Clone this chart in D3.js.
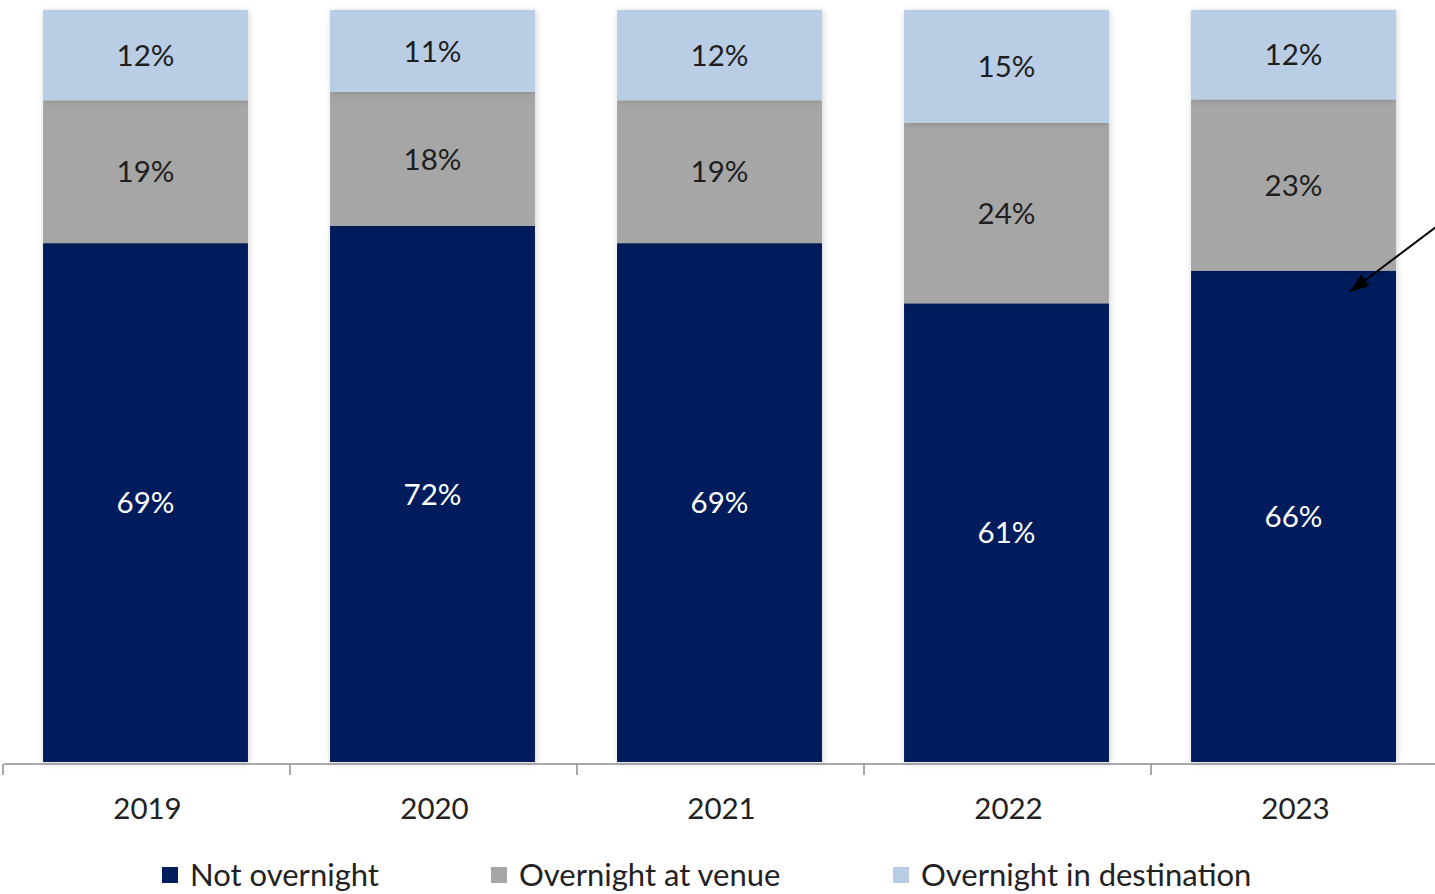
<!DOCTYPE html>
<html>
<head>
<meta charset="utf-8">
<script src="https://cdn.jsdelivr.net/npm/d3@7"></script>
<style>
  html, body { margin: 0; padding: 0; background: #ffffff; }
  svg { display: block; font-family: Lato, "Open Sans", sans-serif; }
</style>
</head>
<body>
<svg id="chart" width="1435" height="894"></svg>
<script>
// Share of event attendees by overnight stay, per year
const years = ["2019", "2020", "2021", "2022", "2023"];
const seriesNames = ["Not overnight", "Overnight at venue", "Overnight in destination"];
const notOvernight = [69, 72, 69, 61, 66];
const overnightVenue = [19, 18, 19, 24, 23];
const overnightDestination = [12, 11, 12, 15, 12];
const seriesColors = ["#001f5c", "#a6a6a6", "#b9cde5"];
const labelColors = ["#ffffff", "#1e1e1e", "#1e1e1e"];

const svg = d3.select("#chart");
const W = 1435, H = 894;

const rows = years.map((y, i) => ({
  year: y,
  "Not overnight": notOvernight[i],
  "Overnight at venue": overnightVenue[i],
  "Overnight in destination": overnightDestination[i]
}));

// 100% stack: each column normalised to its own total
const stacked = d3.stack().keys(seriesNames).offset(d3.stackOffsetExpand)(rows);

const x = d3.scaleBand().domain(years).range([2, 1437]).paddingInner(0.286).paddingOuter(0.143);
const y = d3.scaleLinear().domain([0, 1]).range([762, 10]);

const defs = svg.append("defs");
const shadow = defs.append("filter").attr("id", "soft").attr("x", "-10%").attr("y", "-10%").attr("width", "120%").attr("height", "120%");
shadow.append("feDropShadow").attr("dx", 1).attr("dy", 1).attr("stdDeviation", 3)
  .attr("flood-color", "#000").attr("flood-opacity", 0.18);

const marker = defs.append("marker").attr("id", "arrowHead")
  .attr("viewBox", "0 0 20 14").attr("refX", 18).attr("refY", 7)
  .attr("markerWidth", 20).attr("markerHeight", 14).attr("markerUnits", "userSpaceOnUse")
  .attr("orient", "auto");
marker.append("path").attr("d", "M0,0 L20,7 L0,14 Z").attr("fill", "#000");

// Bars
const layers = svg.append("g").selectAll("g").data(stacked).join("g")
  .attr("fill", (d, i) => seriesColors[i]);
layers.selectAll("rect").data(d => d).join("rect")
  .attr("x", d => x(d.data.year))
  .attr("y", d => y(d[1]))
  .attr("width", x.bandwidth())
  .attr("height", d => y(d[0]) - y(d[1]))
  .attr("filter", "url(#soft)");

// Segment value labels
stacked.forEach((layer, si) => {
  svg.append("g").selectAll("text").data(layer).join("text")
    .attr("x", d => x(d.data.year) + x.bandwidth() / 2)
    .attr("y", d => (y(d[0]) + y(d[1])) / 2)
    .attr("dy", "0.36em")
    .attr("text-anchor", "middle")
    .attr("font-size", 29.5)
    .attr("fill", labelColors[si])
    .text(d => d.data[layer.key] + "%");
});

// Category axis with ticks on band boundaries
const axisY = 764;
const axisG = svg.append("g");
axisG.append("line").attr("x1", 4).attr("x2", W).attr("y1", axisY).attr("y2", axisY)
  .attr("stroke", "#8c8c8c").attr("stroke-width", 1.5);
const boundaries = years.map(yr => x(yr) - x.step() * x.paddingInner() / 2 + 1);
axisG.selectAll("line.tick").data(boundaries).join("line").attr("class", "tick")
  .attr("x1", d => d).attr("x2", d => d).attr("y1", axisY).attr("y2", axisY + 11)
  .attr("stroke", "#8c8c8c").attr("stroke-width", 1.5);
axisG.selectAll("text").data(years).join("text")
  .attr("x", d => x(d) + x.bandwidth() / 2 + 2)
  .attr("y", 808).attr("dy", "0.36em")
  .attr("text-anchor", "middle").attr("font-size", 29.5).attr("fill", "#222")
  .text(d => d);

// Legend
const legendX = [162, 491, 893];
const legend = svg.append("g").selectAll("g").data(seriesNames).join("g")
  .attr("transform", (d, i) => `translate(${legendX[i]},875)`);
legend.append("rect").attr("x", 0).attr("y", -8).attr("width", 16).attr("height", 16)
  .attr("fill", (d, i) => seriesColors[i]);
legend.append("text").attr("x", 28).attr("y", 0).attr("dy", "0.36em")
  .attr("font-size", 31).attr("fill", "#222").text(d => d);

// Pointer arrow into the 2023 column
svg.append("line")
  .attr("x1", 1436).attr("y1", 227)
  .attr("x2", 1351).attr("y2", 291)
  .attr("stroke", "#000").attr("stroke-width", 2)
  .attr("marker-end", "url(#arrowHead)");
</script>
</body>
</html>
